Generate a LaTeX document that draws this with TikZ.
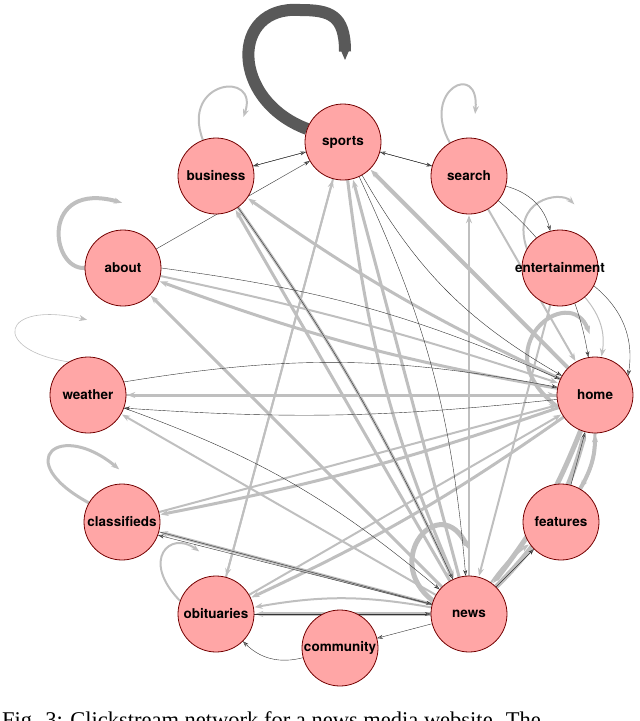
\documentclass[tikz,border=0pt]{standalone}
\usepackage{fontspec}
\setmainfont{Liberation Serif}
\newfontfamily\hv{TeX Gyre Heros}
\usetikzlibrary{arrows.meta}
\begin{document}
\begin{tikzpicture}[x=1pt,y=-1pt,
  pg/.style={circle,draw=red!45!black,line width=0.8pt,fill=red!35!white,minimum size=76pt,inner sep=0pt},
  lb/.style={font=\hv\bfseries\fontsize{13.5}{15}\selectfont,inner sep=0pt},
  e/.style={draw=black!25,line width=#1,-{Stealth[length=8pt,width=6pt]},shorten >=1pt},
  e/.default=2pt,
  tn/.style={draw=black!80,line width=0.4pt,-{Stealth[length=6pt,width=4pt,fill=black!40]}},
  dk/.style={draw=black!65,line width=12pt,-{Stealth[length=14pt,width=12pt]}}]
\useasboundingbox (0,0) rectangle (640,721);
\clip (0,0) rectangle (640,721);
\coordinate (sp) at (343,142);
\coordinate (bu) at (216,176);
\coordinate (se) at (469,176);
\coordinate (ab) at (123,268);
\coordinate (en) at (560,268);
\coordinate (we) at (88,395);
\coordinate (ho) at (595,395);
\coordinate (cl) at (122,522);
\coordinate (fe) at (561,522);
\coordinate (ob) at (216,614);
\coordinate (ne) at (469,614);
\coordinate (co) at (340,648);
\foreach \n in {sp,bu,se,ab,en,we,ho,cl,fe,ob,ne,co}{
  \node[circle,minimum size=76pt,inner sep=0pt] (\n) at (\n) {};}
% self loops
\draw[dk] (sp.160) .. controls (230,100) and (230,5) .. (300,10) .. controls (330,10) and (345,15) .. (345,60);
\draw[e=2pt] (bu.110) .. controls (180,80) and (260,70) .. (243,118);
\draw[e=2pt] (se.120) .. controls (420,90) and (480,60) .. (475,115);
\draw[e=4pt] (ab.180) .. controls (50,270) and (40,180) .. (123,203);
\draw[e=2pt] (en.150) .. controls (510,200) and (560,190) .. (575,205);
\draw[e=0.6pt] (we.120) .. controls (-10,350) and (0,300) .. (88,320);
\draw[e=3pt] (cl.150) .. controls (10,460) and (60,420) .. (120,470);
\draw[e=2pt] (ob.160) .. controls (140,560) and (170,530) .. (200,552);
\draw[e=5pt] (ne.160) .. controls (380,560) and (440,490) .. (469,550);
\draw[e=4pt] (ho.200) .. controls (480,350) and (570,280) .. (590,335);
% thick gray edges
\draw[e=4pt] (ho) -- (sp);
\draw[e=3pt] (ho) to[bend left=5] (bu);
\draw[e=3pt] (ho) to[bend left=5] (ab);
\draw[e=3pt] (ho) -- (we);
\draw[e=3pt] (ho) to[bend left=4] (cl);
\draw[e=3pt] (ho) to[bend left=5] (ob);
\draw[e=5pt] (ho) to[bend left=8] (ne);
\draw[e=3pt] (ho) to[bend left=15] (fe);
\draw[e=5pt] (ne) to[bend right=15] (ho);
\draw[e=4pt] (fe) to[bend right=15] (ho);
\draw[e=2pt] (se) -- (ho);
\draw[e=4pt] (ne) -- (ob);
\draw[e=3pt] (ne) -- (sp);
\draw[e=3pt] (sp) to[bend right=8] (ne);
\draw[e=3pt] (ne) -- (bu);
\draw[e=3pt] (bu) to[bend left=5] (ne);
\draw[e=2pt] (ne) -- (we);
\draw[e=3pt] (ne) -- (cl);
\draw[e=3pt] (ne) -- (ab);
\draw[e=2pt] (ne) -- (se);
\draw[e=2pt] (ob) -- (ho);
\draw[e=2pt] (cl) -- (ho);
\draw[e=2pt] (we) -- (ho);
\draw[e=2pt] (ab) to[bend left=3] (ho);
\draw[e=2pt] (ob) -- (sp);
\draw[e=2pt] (sp) -- (ob);
\draw[e=2pt] (ne) to[bend left=10] (fe);
\draw[e=2pt] (en) -- (ne);
\draw[e=2pt] (ne) to[bend right=10] (ob);
\draw[e=1pt] (en) to[bend left=25] (ho);
% thin dark edges
\draw[tn] (sp) -- (bu);
\draw[tn] (bu) -- (sp);
\draw[tn] (sp) -- (se);
\draw[tn] (se) -- (sp);
\draw[tn] (ab) -- (sp);
\draw[tn] (ab.0) to[bend left=8] (ho);
\draw[tn] (we.20) to[bend left=10] (ho);
\draw[tn] (ho) to[bend left=5] (we.340);
\draw[tn] (we) to[bend left=10] (ne);
\draw[tn] (cl) -- (ne);
\draw[tn] (ne) -- (cl.340);
\draw[tn] (ob) -- (ne);
\draw[tn] (ne) -- (co);
\draw[tn] (co) to[bend left=30] (ob);
\draw[tn] (sp) to[bend left=10] (ne);
\draw[tn] (bu) to[bend left=5] (ne);
\draw[tn] (ne) -- (fe);
\draw[tn] (fe) -- (ho);
\draw[tn] (se) to[bend left=20] (ho);
\draw[tn] (en) to[bend left=30] (ho.30);
\draw[tn] (sp) to[bend right=15] (ho);
\draw[tn] (se) to[bend left=30] (en);
% nodes on top
\foreach \n in {sp,bu,se,ab,en,we,ho,cl,fe,ob,ne,co}{
  \node[pg] at (\n) {};}
\foreach \n/\t in {sp/sports,bu/business,se/search,ab/about,en/entertainment,we/weather,ho/home,cl/classifieds,fe/features,ob/obituaries,ne/news,co/community}{
  \node[lb] at (\n) {\t};}
\node[font=\fontsize{22.5}{24}\selectfont,anchor=base west,inner sep=0pt] (cap) at (2,727) {Fig. 3: Clickstream network for a news media website. The};
\end{tikzpicture}
\end{document}
